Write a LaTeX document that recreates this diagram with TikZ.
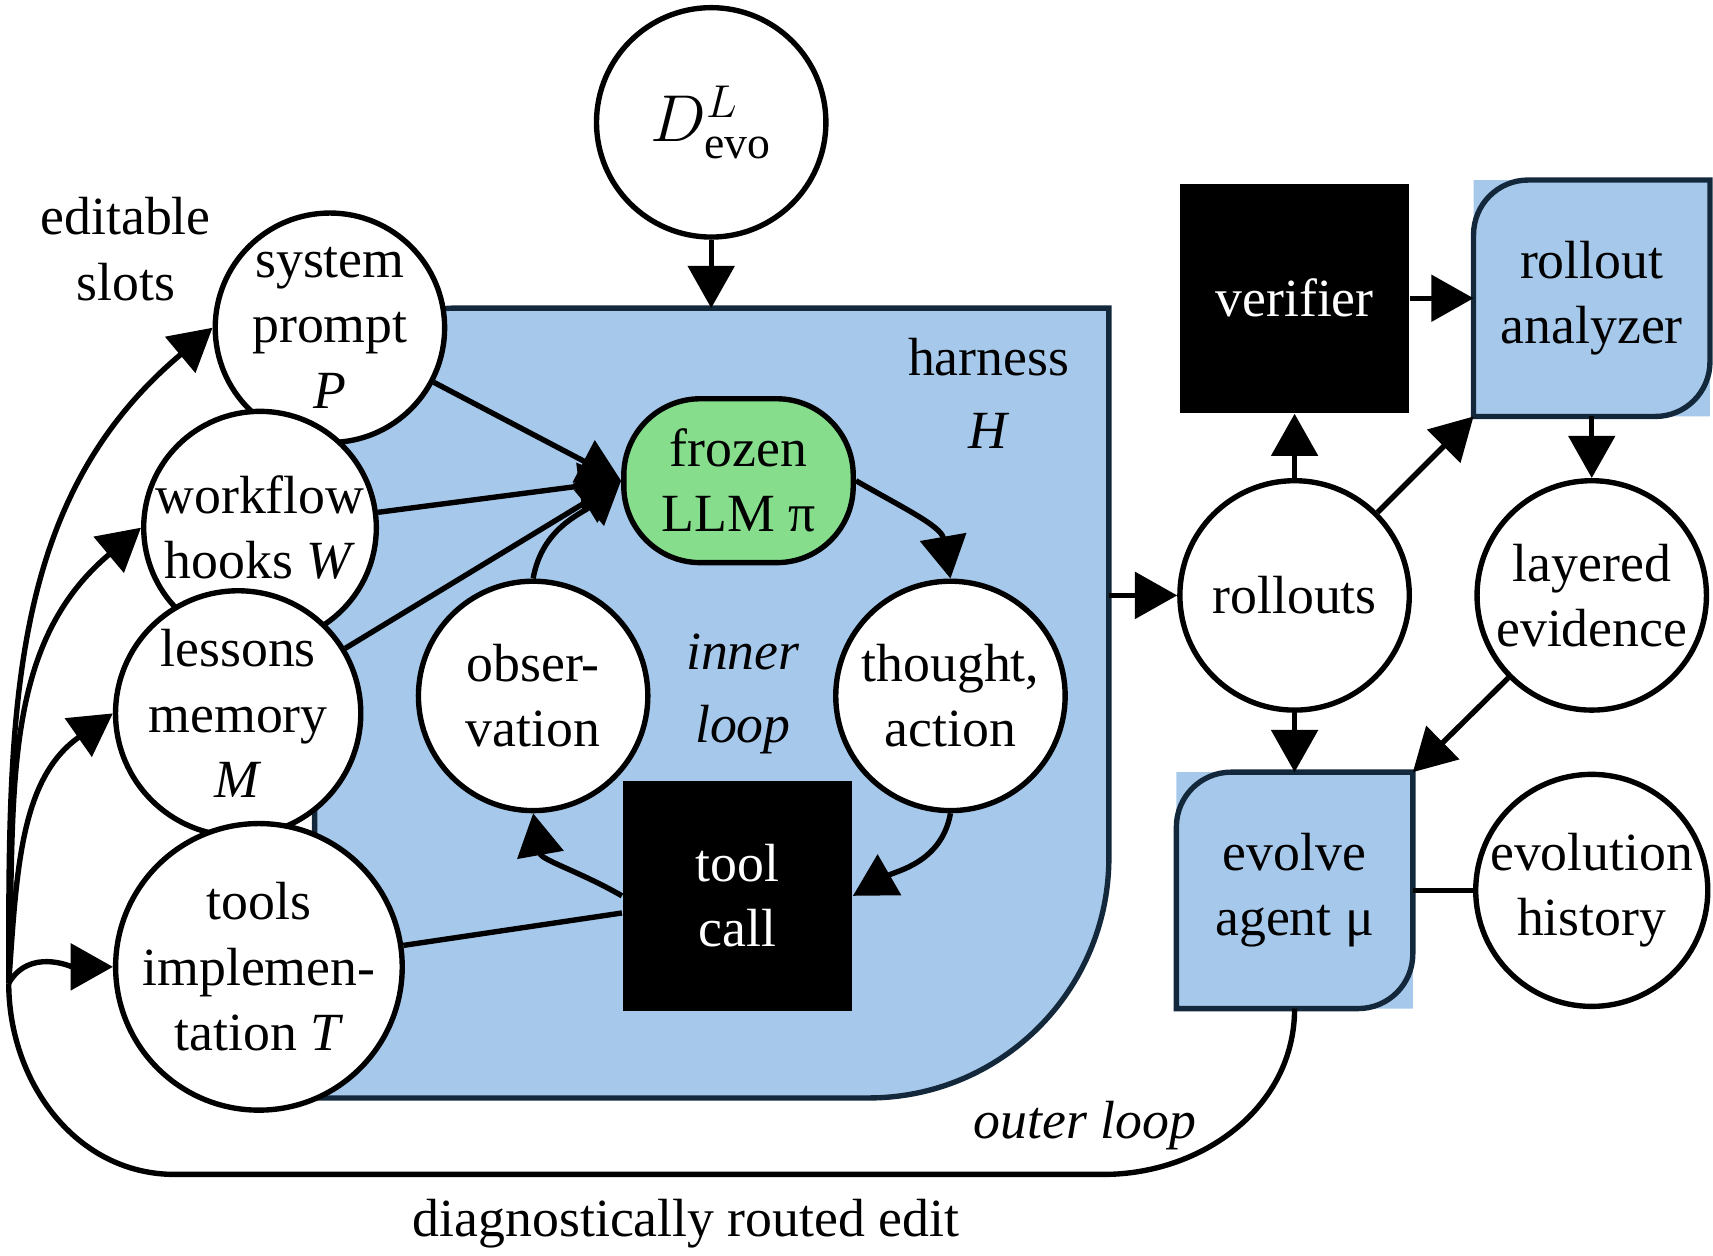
\documentclass[tikz,border=0pt]{standalone}
\usepackage{fontspec}
\setmainfont{Liberation Serif}
\usetikzlibrary{arrows.meta}
\definecolor{harnessblue}{RGB}{166,201,235}
\definecolor{llmgreen}{RGB}{134,222,140}
\definecolor{edgeblue}{RGB}{20,40,60}

\tikzset{
  slot/.style={circle,draw,fill=white,line width=1.4pt,minimum size=2.1cm,inner sep=0pt,align=center},
  blackbox/.style={rectangle,fill=black,text=white,minimum size=2.1cm,align=center},
  hidden/.style={rectangle,minimum size=2.15cm,align=center},
  flow/.style={line width=1.4pt,-{Triangle[length=11pt,width=12pt]}},
}
\newcommand{\leafbox}[1]{%
  \fill[harnessblue] (#1.south west) -- (#1.north west) [rounded corners=0.5cm] -- (#1.north east) [sharp corners] -- (#1.south east) -- cycle;
  \draw[line width=1.4pt,draw=edgeblue,fill=harnessblue] (#1.south west) [rounded corners=0.5cm] -- (#1.north west) [sharp corners] -- (#1.north east) [rounded corners=0.5cm] -- (#1.south east) [sharp corners] -- cycle;}

\begin{document}
\begin{tikzpicture}[font=\fontsize{14}{17}\selectfont]
    \useasboundingbox (0,0) rectangle (15.68,-11.49);
    % harness
    \draw[line width=1.4pt,draw=edgeblue,fill=harnessblue]
      (2.88,-10.05) [rounded corners=1.3cm] -- (2.88,-2.82) [sharp corners] -- (10.15,-2.82)
      [rounded corners=2.2cm] -- (10.15,-10.05) [sharp corners] -- cycle;
    \node[align=center] (harness) at (9.05,-3.6) {harness\\[2pt]\textit{H}};
    \node[align=center] (inner) at (6.8,-6.35) {\textit{inner}\\[2pt]\textit{loop}};

    % nodes
    \node[slot] (devo) at (6.51,-1.12) {\fontsize{17}{20}\selectfont$D^{L}_{\mathrm{evo}}$};
    \node[slot] (prompt) at (3.02,-3.0) {system\\prompt\\\textit{P}};
    \node[slot] (hooks) at (2.38,-4.83) {workflow\\hooks \textit{W}};
    \node[slot] (memory) at (2.18,-6.53) {lessons\\memory\\\textit{M}};
    \node[slot] (tools) at (2.37,-8.85) {tools\\implemen-\\tation \textit{T}};
    \node[rectangle,rounded corners=0.7cm,draw,line width=1.4pt,fill=llmgreen,minimum width=2.1cm,minimum height=1.5cm,align=center] (llm) at (6.76,-4.4) {frozen\\LLM π};
    \node[slot] (thought) at (8.7,-6.37) {thought,\\action};
    \node[slot] (obs) at (4.88,-6.37) {obser-\\vation};
    \node[blackbox] (call) at (6.75,-8.2) {tool\\call};
    \node[blackbox] (verifier) at (11.85,-2.73) {verifier};
    \node[hidden] (analyzer) at (14.57,-2.73) {};
    \node[slot] (rollouts) at (11.85,-5.45) {rollouts};
    \node[slot] (evidence) at (14.57,-5.45) {layered\\evidence};
    \node[hidden] (evolve) at (11.85,-8.15) {};
    \node[slot] (history) at (14.57,-8.15) {evolution\\history};
    \leafbox{analyzer}
    \leafbox{evolve}
    \node[align=center] at (analyzer) {rollout\\analyzer};
    \node[align=center] at (evolve) {evolve\\agent μ};
    \node[align=center] (slots) at (1.15,-2.28) {editable\\slots};
    \node (outer) at (9.93,-10.3) {\textit{outer loop}};
    \node (edit) at (6.28,-11.2) {diagnostically routed edit};
    \coordinate (harnessright) at (10.15,-5.45);
    \coordinate (fork) at (0.08,-9.0);

    % connectors
    \draw[flow] (devo) -- (6.51,-2.82);
    \draw[flow] (prompt) -- (llm.west);
    \draw[flow] (hooks) -- (llm.west);
    \draw[flow] (memory) -- (llm.west);
    \draw[flow] (obs.north) to[out=80,in=220] (llm.west);
    \draw[flow] (llm.east) to[out=-30,in=100] (thought.north);
    \draw[flow] (thought.south) to[out=-100,in=30] (call.east);
    \draw[flow] (call.west) to[out=150,in=-80] (obs.south);
    \draw[line width=1.4pt] (call) -- (tools);
    \draw[flow] (harnessright) -- (rollouts);
    \draw[flow] (rollouts) -- (verifier);
    \draw[flow] (rollouts) -- (analyzer.south west);
    \draw[flow] (verifier) -- (analyzer);
    \draw[flow] (analyzer) -- (evidence);
    \draw[flow] (evidence) -- (evolve.north east);
    \draw[flow] (rollouts) -- (evolve);
    \draw[line width=1.4pt] (evolve) -- (history);
    \draw[line width=1.4pt] (evolve.south) to[out=-90,in=0] (10.1,-10.75) -- (1.6,-10.75) to[out=180,in=-90] (fork);
    \draw[flow] (fork) to[out=60,in=180] (tools.west);
    \draw[flow] (fork) to[out=86,in=215] (memory.west);
    \draw[flow] (fork) to[out=88,in=220] (hooks.west);
    \draw[flow] (fork) to[out=90,in=220] (prompt.west);
\end{tikzpicture}
\end{document}
